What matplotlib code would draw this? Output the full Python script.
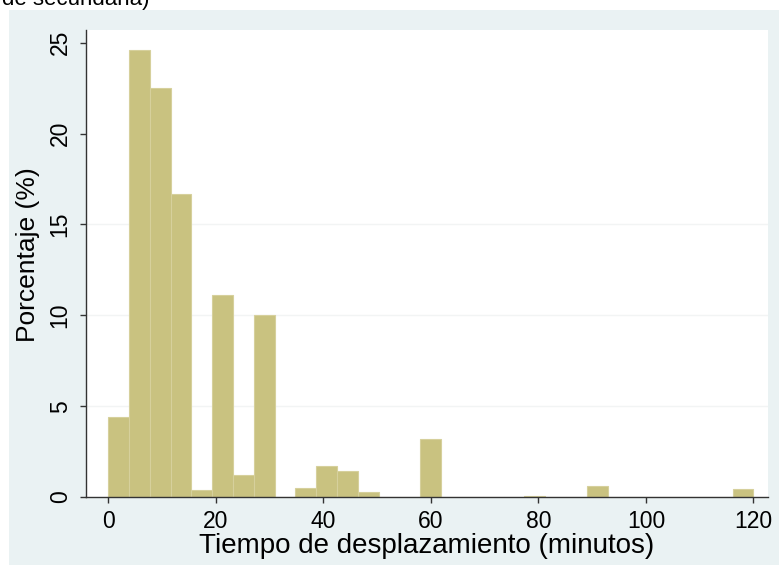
import numpy as np
import matplotlib
matplotlib.use('Agg')
from matplotlib import pyplot as plt
from matplotlib.patches import Rectangle

# Histogram of travel time: 31 equal bins from 0 to 120 minutes
bin_start = 0.0
bin_end = 120.0
n_bins = 31
pct = [4.4, 24.6, 22.5, 16.7, 0.4, 11.1, 1.2, 10.0, 0.0, 0.5,
       1.7, 1.45, 0.3, 0.0, 0.0, 3.2, 0.0, 0.0, 0.0, 0.0,
       0.08, 0.0, 0.0, 0.6, 0.0, 0.0, 0.0, 0.0, 0.0, 0.0,
       0.45]

x_ticks = [0, 20, 40, 60, 80, 100, 120]
y_ticks = [0, 5, 10, 15, 20, 25]
x_title = 'Tiempo de desplazamiento (minutos)'
y_title = 'Porcentaje (%)'
top_text = 'de secundaria)'

W, H = 779, 565
plt.rcParams['font.family'] = ['Liberation Sans', 'DejaVu Sans']

fig = plt.figure(figsize=(W / 100, H / 100), dpi=100, facecolor='white')

# graph region background
fig.patches.append(Rectangle((9 / W, 0), 1 - 9 / W, 1 - 10 / H,
                             transform=fig.transFigure,
                             facecolor='#EAF2F3', edgecolor='none', zorder=-5))
fig.text(2 / W, 1 - 5 / H, top_text, fontsize=16, va='baseline', ha='left')

ax = fig.add_axes([86 / W, (H - 497) / H, (768 - 86) / W, (497 - 30) / H])
ax.set_facecolor('white')

edges = np.linspace(bin_start, bin_end, n_bins + 1)
widths = np.diff(edges)
ax.bar(edges[:-1], pct, width=widths, align='edge',
       color='#C9C280', edgecolor='#D6D09C', linewidth=0.8, zorder=2)

for y in y_ticks[1:4]:
    ax.axhline(y, color='#F2F4F4', linewidth=1, zorder=1)

ax.set_xlim(-4.1, 122.7)
ax.set_ylim(0, 25.7)
ax.set_xticks(x_ticks)
ax.set_yticks(y_ticks)
ax.set_yticklabels([str(v) for v in y_ticks], rotation=90, va='center')

for side in ['top', 'right']:
    ax.spines[side].set_visible(False)
for side in ['left', 'bottom']:
    ax.spines[side].set_color('#333333')
    ax.spines[side].set_linewidth(1)

ax.tick_params(axis='both', direction='out', length=4.3, width=1,
               color='#333333', labelsize=16.5)
ax.tick_params(axis='x', pad=5)
ax.tick_params(axis='y', pad=6)

ax.set_xlabel(x_title, fontsize=20)
ax.set_ylabel(y_title, fontsize=19)
ax.xaxis.set_label_coords(0.5, -0.077)
ax.yaxis.set_label_coords(-0.067, 0.52)

fig.savefig('out.png', dpi=100)
